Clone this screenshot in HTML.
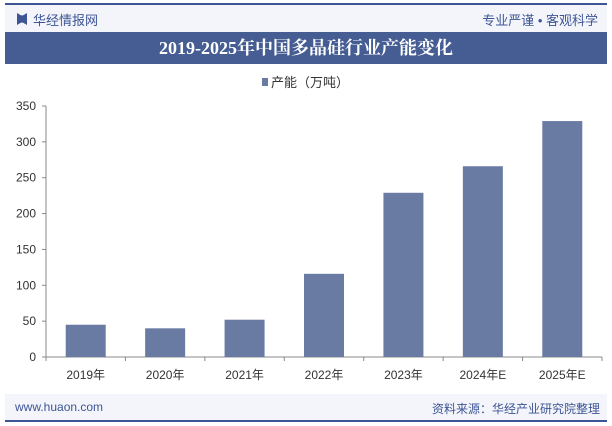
<!DOCTYPE html>
<html><head><meta charset="utf-8"><style>
body{margin:0;width:612px;height:426px;background:#fff;font-family:"Liberation Sans","Noto Sans CJK SC",sans-serif;position:relative;overflow:hidden}
.abs{position:absolute}
</style></head><body>
<div class="abs" style="left:5px;top:3px;width:602px;height:2px;background:#3d5595"></div>
<div class="abs" style="left:5px;top:5px;width:602px;height:27px;background:#f3f5fa"></div>
<div class="abs" style="left:17px;top:13px;width:10px;height:12px;background:#3d5595;clip-path:polygon(0 0,40% 20%,60% 20%,100% 0,100% 100%,60% 80%,40% 80%,0 100%)"></div>
<div class="abs" style="left:33px;top:10px;font-size:13px;color:#3d5595">华经情报网</div>
<div class="abs" style="right:14px;top:10px;font-size:13px;color:#3d5595">专业严谨 • 客观科学</div>
<div class="abs" style="left:5px;top:32px;width:602px;height:32px;background:#455d93;color:#fff;font-family:'Liberation Serif','Noto Serif CJK SC',serif;font-weight:bold;font-size:18px;text-align:center;line-height:32px">2019-2025年中国多晶硅行业产能变化</div>
<svg class="abs" style="left:0;top:0" width="612" height="426" id="chart"></svg>
<div class="abs" style="left:5px;top:394px;width:602px;height:26px;background:#f3f5fa"></div>
<div class="abs" style="left:15px;top:400px;font-size:12px;color:#3d5595">www.huaon.com</div>
<div class="abs" style="right:12px;top:400px;font-size:12px;color:#3d5595">资料来源：华经产业研究院整理</div>
<div class="abs" style="left:5px;top:420px;width:602px;height:2px;background:#3d5595"></div>
<script>
const categories=["2019年","2020年","2021年","2022年","2023年","2024年E","2025年E"];
const values=[45,40,52,116,229,266,329];
const yTicks=[0,50,100,150,200,250,300,350];
const svg=document.getElementById('chart');
const NS='http://www.w3.org/2000/svg';
const x0=46,x1=602,y0=357,y1=106,ymax=350;
const band=(x1-x0)/categories.length;
const yScale=v=>y0-(y0-y1)*v/ymax;
const xCenter=i=>x0+band*(i+0.5);
function mk(t,a){const e=document.createElementNS(NS,t);for(const k in a)e.setAttribute(k,a[k]);svg.appendChild(e);return e;}
// legend
let lg=mk('rect',{x:262,y:78,width:6,height:8,fill:'#6a7ba3'});


let lt=mk('text',{x:271,y:87,'font-size':13,fill:'#333'});lt.textContent='产能（万吨）';


// axes
let ya=mk('line',{x1:x0,y1:y1,x2:x0,y2:y0,stroke:'#888'});


let xa=mk('line',{x1:x0,y1:y0,x2:x1,y2:y0,stroke:'#888'});


yTicks.forEach(v=>{const y=yScale(v);
mk('line',{x1:x0-4,y1:y,x2:x0,y2:y,stroke:'#888'});
const t=mk('text',{x:x0-10,y:y+4,'font-size':12,fill:'#333','text-anchor':'end'});t.textContent=v;

});
for(let i=0;i<=categories.length;i++){const x=x0+band*i;mk('line',{x1:x,y1:y0,x2:x,y2:y0+4,stroke:'#888'});}
categories.forEach((c,i)=>{
const cx=xCenter(i),bw=40;
const r=mk('rect',{x:cx-bw/2,y:yScale(values[i]),width:bw,height:y0-yScale(values[i]),fill:'#6a7ba3'});


const t=mk('text',{x:cx,y:y0+22,'font-size':12,fill:'#333','text-anchor':'middle'});t.textContent=c;


});
</script>
</body></html>
